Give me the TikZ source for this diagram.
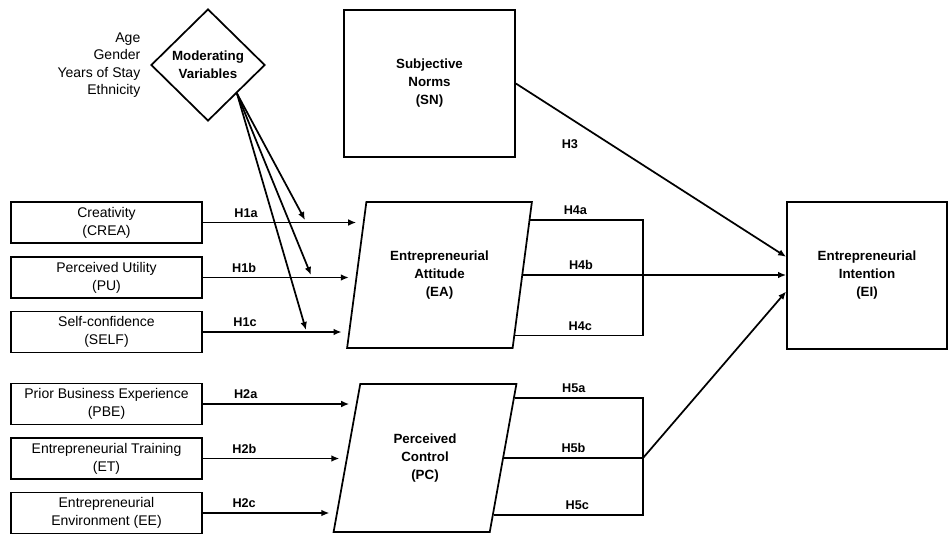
\documentclass[tikz,border=0pt]{standalone}
\usepackage{fontspec}
\setmainfont{Liberation Sans}
\usetikzlibrary{shapes.geometric,arrows.meta,calc}

\tikzset{
  factor/.style={draw, line width=1.3pt, minimum width=143.25pt, minimum height=30.75pt,
    align=center, inner sep=1pt, font=\fontsize{10.5}{13.5}\selectfont},
  construct/.style={draw, line width=1.3pt, align=center, inner sep=0pt,
    font=\bfseries\fontsize{10}{13.5}\selectfont},
  slanted/.style={construct, trapezium, trapezium left angle=75, trapezium right angle=105,
    trapezium stretches=true},
  hyp/.style={font=\bfseries\fontsize{9.5}{11}\selectfont},
  link/.style={line width=1.3pt, -{Latex[length=6pt,width=5pt]}},
  bar/.style={line width=1.3pt},
}

\begin{document}
\begin{tikzpicture}[x=0.75pt,y=-0.75pt]
  \useasboundingbox (0,0) rectangle (948,533);

  % moderators
  \node[construct, diamond, minimum width=85.5pt, minimum height=84pt] (mod) at (208,65) {Moderating\\Variables};
  \node[align=right, anchor=east, font=\fontsize{10.5}{13}\selectfont] (modlist) at (145,65) {Age\\Gender\\Years of Stay\\Ethnicity};

  % constructs
  \node[construct, rectangle, minimum width=128.25pt, minimum height=110.25pt] (sn) at (429.5,83.5) {Subjective\\Norms\\(SN)};
  \node[slanted, minimum width=138.75pt, minimum height=109.5pt] (ea) at (439.5,275) {Entrepreneurial\\Attitude\\(EA)};
  \node[slanted, minimum width=138pt, minimum height=111pt] (pc) at (425,458) {Perceived\\Control\\(PC)};
  \node[construct, rectangle, minimum width=120pt, minimum height=110.25pt] (ei) at (867,275.5) {Entrepreneurial\\Intention\\(EI)};

  % antecedents
  \node[factor] (crea) at (106.5,222.5) {Creativity\\(CREA)};
  \node[factor] (pu) at (106.5,277.5) {Perceived Utility\\(PU)};
  \node[factor] (self) at (106.5,332) {Self-confidence\\(SELF)};
  \node[factor] (pbe) at (106.5,404) {Prior Business Experience\\(PBE)};
  \node[factor] (et) at (106.5,458.5) {Entrepreneurial Training\\(ET)};
  \node[factor] (ee) at (106.5,513) {Entrepreneurial\\Environment (EE)};

  % points on the slanted sides
  \coordinate (ea1) at ($(ea.top left corner)!0.14!(ea.bottom left corner)$);
  \coordinate (ea2) at ($(ea.top left corner)!0.52!(ea.bottom left corner)$);
  \coordinate (ea3) at ($(ea.top left corner)!0.89!(ea.bottom left corner)$);
  \coordinate (pc1) at ($(pc.top left corner)!0.135!(pc.bottom left corner)$);
  \coordinate (pc2) at ($(pc.top left corner)!0.5!(pc.bottom left corner)$);
  \coordinate (pc3) at ($(pc.top left corner)!0.87!(pc.bottom left corner)$);
  \coordinate (ea4a) at ($(ea.top right corner)!0.13!(ea.bottom right corner)$);
  \coordinate (ea4c) at ($(ea.top right corner)!0.91!(ea.bottom right corner)$);
  \coordinate (pc5a) at ($(pc.top right corner)!0.1!(pc.bottom right corner)$);
  \coordinate (pc5c) at ($(pc.top right corner)!0.88!(pc.bottom right corner)$);
  \coordinate (barx) at (643,0);

  % H1, H2
  \draw[link, shorten >=5pt] (crea.east) -- node[hyp, above, pos=.27] {H1a} (crea.east -| ea1);
  \draw[link, shorten >=5pt] (pu.east) -- node[hyp, above, pos=.27] {H1b} (pu.east -| ea2);
  \draw[link, shorten >=5pt] (self.east) -- node[hyp, above, pos=.29] {H1c} (self.east -| ea3);
  \draw[link, shorten >=5pt] (pbe.east) -- node[hyp, above, pos=.28] {H2a} (pbe.east -| pc1);
  \draw[link, shorten >=5pt] (et.east) -- node[hyp, above, pos=.29] {H2b} (et.east -| pc2);
  \draw[link, shorten >=5pt] (ee.east) -- node[hyp, above, pos=.31] {H2c} (ee.east -| pc3);

  % moderating effects
  \coordinate (m1) at (305,220);
  \coordinate (m2) at (311,275);
  \coordinate (m3) at (306,330);
  \draw[link] (mod.south east) -- (m1);
  \draw[link] (mod.south east) -- (m2);
  \draw[link] (mod.south east) -- (m3);

  % H3
  \draw[link] (sn.east) -- node[hyp, pos=.2, below=12pt] {H3} ([yshift=14pt]ei.west);

  % H4
  \draw[bar] (ea4a) -- node[hyp, above, pos=.4] {H4a} (ea4a -| barx) -- (ea4c -| barx)
    -- node[hyp, above, pos=.49] {H4c} (ea4c);
  \draw[link] (ea.east) -- node[hyp, above, pos=.22] {H4b} (ea.east -| ei.west);

  % H5
  \draw[bar] (pc5a) -- node[hyp, above, pos=.46] {H5a} (pc5a -| barx) -- (pc5c -| barx)
    -- node[hyp, above, pos=.44] {H5c} (pc5c);
  \draw[bar] (pc.east) -- node[hyp, above, pos=.5] {H5b} (pc.east -| barx) coordinate (jp);
  \draw[link] (jp) -- ([yshift=-12pt]ei.west);
\end{tikzpicture}
\end{document}
